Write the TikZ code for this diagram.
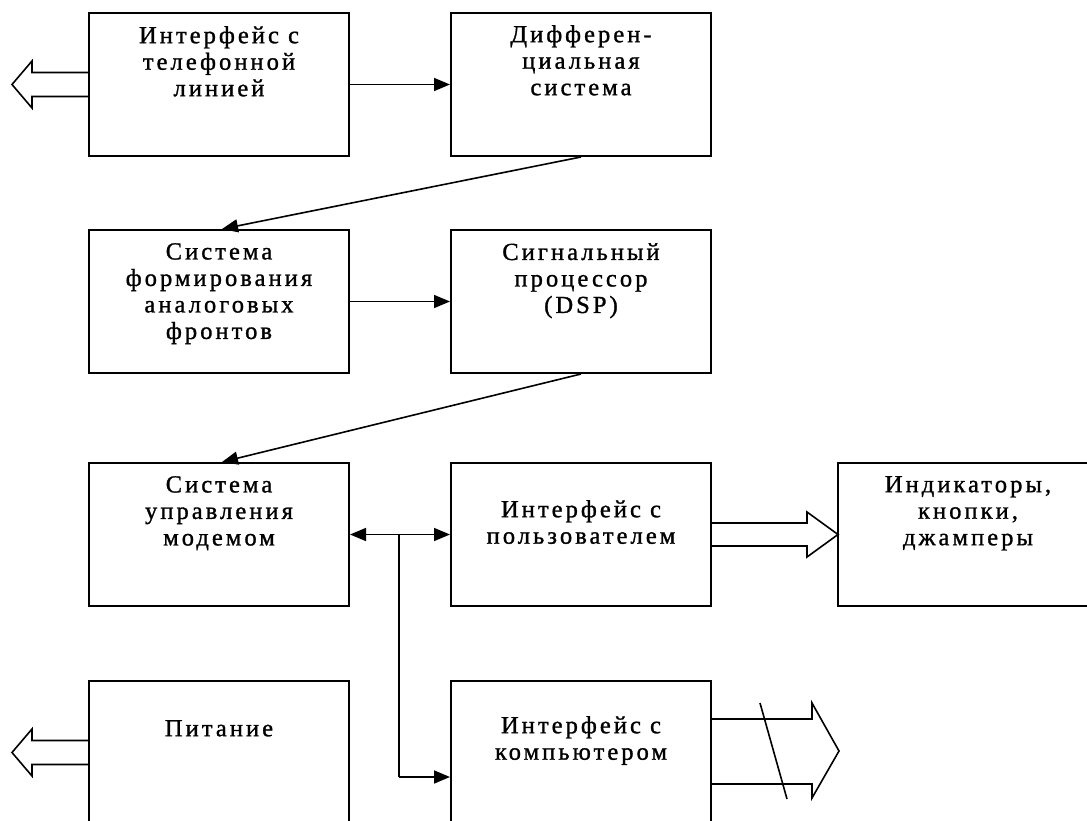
\documentclass[tikz,border=0pt]{standalone}
\usepackage{fontspec}
\setmainfont[LetterSpace=12.5,FakeBold=1.2]{Liberation Serif}
\usetikzlibrary{arrows.meta,positioning}

\tikzset{
  box/.style={draw,line width=2pt,minimum width=260pt,minimum height=143pt,inner sep=0pt},
  txt/.style={align=center,inner sep=0pt,font=\fontsize{24.5pt}{26.5pt}\selectfont},
  conn/.style={line width=1.6pt,-{Triangle[length=16pt,width=13pt]}},
  twoway/.style={line width=1.6pt,{Triangle[length=16pt,width=13pt]}-{Triangle[length=16pt,width=13pt]}},
  wire/.style={line width=1.6pt},
  fat/.style={line width=1.6pt,line join=miter}
}

\begin{document}
\begin{tikzpicture}[x=1pt,y=-1pt]
\useasboundingbox (0,0) rectangle (1087,821);
% blocks
\node[box] (tel) at (219,84.5) {};
\node[txt,below=14pt of tel.north] (tel-t) {Интерфейс с\\телефонной\\линией};
\node[box] (diff) at (581,84.5) {};
\node[txt,below=13pt of diff.north] (diff-t) {Дифферен-\\циальная\\система};
\node[box] (afe) at (219,301.5) {};
\node[txt,below=14pt of afe.north] (afe-t) {Система\\формирования\\аналоговых\\фронтов};
\node[box] (dsp) at (581,301.5) {};
\node[txt,below=14pt of dsp.north] (dsp-t) {Сигнальный\\процессор\\(DSP)};
\node[box] (ctl) at (219,534.5) {};
\node[txt,below=14pt of ctl.north] (ctl-t) {Система\\управления\\модемом};
\node[box] (usr) at (581,534.5) {};
\node[txt,below=38pt of usr.north] (usr-t) {Интерфейс с\\пользователем};
\node[box] (ind) at (968,534.5) {};
\node[txt,below=14pt of ind.north] (ind-t) {Индикаторы,\\кнопки,\\джамперы};
\node[box] (pwr) at (219,752.5) {};
\node[txt,below=40pt of pwr.north] (pwr-t) {Питание};
\node[box] (pc) at (581,752.5) {};
\node[txt,below=36pt of pc.north] (pc-t) {Интерфейс с\\компьютером};

% connectors
\draw[conn] (tel) -- (diff);
\draw[conn] (diff.south) -- ([xshift=3pt]afe.north);
\draw[conn] (afe) -- (dsp);
\draw[conn] (dsp.south) -- ([xshift=3pt]ctl.north);
\draw[twoway] (ctl) -- (usr);
\coordinate (bus) at (399,534.5);
\coordinate (bus-end) at (399,777);
\draw[wire] (bus) -- (bus-end);
\draw[conn] (bus-end) -- (bus-end -| pc.west);

% wide arrows
\draw[fat] (89,72.5) -- (32,72.5) -- (32,61) -- (12,84.5) -- (32,108) -- (32,96.5) -- (89,96.5);
\draw[fat] (89,740.5) -- (32,740.5) -- (32,729) -- (12,752.5) -- (32,776) -- (32,764.5) -- (89,764.5);
\draw[fat] (711,523) -- (807,523) -- (807,512) -- (838,534.5) -- (807,557) -- (807,546) -- (711,546);
\draw[fat] (711,719) -- (812,719) -- (812,703) -- (839,751) -- (812,798) -- (812,784) -- (711,784);
\draw[wire] (760,703) -- (787,799);
\end{tikzpicture}
\end{document}
